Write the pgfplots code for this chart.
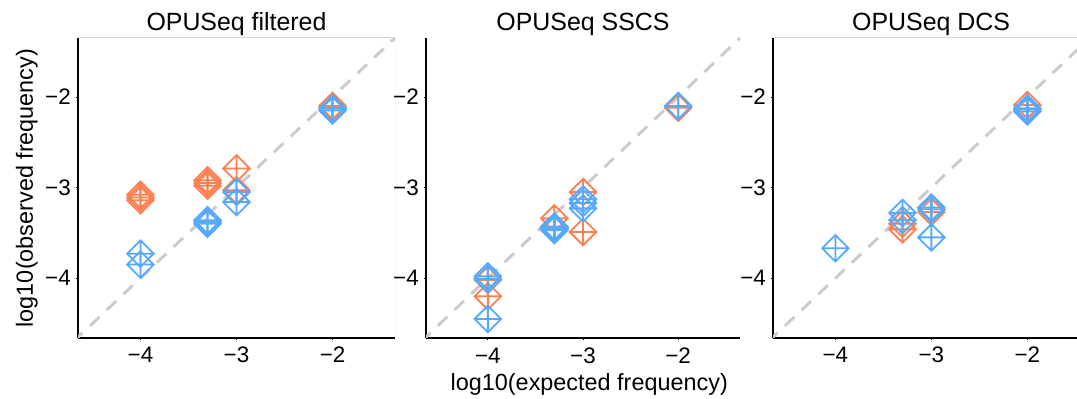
\documentclass[border=0pt]{standalone}
\usepackage{fontspec}
\setmainfont{Liberation Sans}
\usepackage{pgfplots}
\pgfplotsset{compat=1.18}
\definecolor{cor}{RGB}{255,127,80}
\definecolor{blu}{RGB}{85,170,255}
\definecolor{dgr}{RGB}{204,204,204}
\definecolor{bgr}{RGB}{215,215,215}
\pgfdeclareplotmark{dplus}{%
  \pgfpathmoveto{\pgfqpoint{0pt}{\pgfplotmarksize}}%
  \pgfpathlineto{\pgfqpoint{\pgfplotmarksize}{0pt}}%
  \pgfpathlineto{\pgfqpoint{0pt}{-\pgfplotmarksize}}%
  \pgfpathlineto{\pgfqpoint{-\pgfplotmarksize}{0pt}}%
  \pgfpathclose
  \pgfpathmoveto{\pgfqpoint{0pt}{\pgfplotmarksize}}%
  \pgfpathlineto{\pgfqpoint{0pt}{-\pgfplotmarksize}}%
  \pgfpathmoveto{\pgfqpoint{\pgfplotmarksize}{0pt}}%
  \pgfpathlineto{\pgfqpoint{-\pgfplotmarksize}{0pt}}%
  \pgfusepathqstroke}
\pgfplotsset{
  panel/.style={
    scale only axis,
    height=300bp,
    xmin=-4.65, xmax=-1.35, ymin=-4.66, ymax=-1.35,
    axis x line*=bottom, axis y line*=left,
    axis line style={black, line width=1.3bp, -},
    xtick={-4,-3,-2}, xticklabels={−4,−3,−2},
    ytick={-4,-3,-2}, yticklabels={−4,−3,−2},
    tick align=outside,
    major tick length=2bp,
    tick style={black, line width=0.8bp},
    tick label style={font=\fontsize{22.5}{26}\selectfont},
    xticklabel style={anchor=base, yshift=-23bp},
    yticklabel style={anchor=east, inner sep=0pt, xshift=-5bp},
    title style={font=\fontsize{25}{29}\selectfont, at={(0.5,1)}, anchor=base, yshift=2bp},
    label style={font=\fontsize{23.5}{28}\selectfont},
  },
  diag/.style={dgr, line width=3bp, dash pattern=on 13bp off 10bp, forget plot},
  orng/.style={only marks, mark=dplus, mark size=13.3bp, mark options={cor, line width=1.8bp}},
  blue/.style={only marks, mark=dplus, mark size=13.3bp, mark options={blu, line width=1.8bp}},
}
\begin{document}
\begin{tikzpicture}
% Panel 1
\begin{axis}[panel, at={(78bp,61bp)}, anchor=south west, width=317bp,
  title={OPUSeq filtered},
  ylabel={log10(observed frequency)},
  ylabel style={at={(axis description cs:-0.142,0.5)}, anchor=base}]
\addplot[diag] coordinates {(-4.7,-4.7) (-1.3,-1.3)};
\addplot[orng] coordinates {(-4,-3.08) (-4,-3.11) (-4,-3.14) (-3.301,-2.92) (-3.301,-2.95) (-3.301,-2.98) (-3,-2.79) (-3,-3.03) (-2,-2.10) (-2,-2.12)};
\addplot[blue] coordinates {(-4,-3.73) (-4,-3.85) (-3.301,-3.36) (-3.301,-3.38) (-3.301,-3.40) (-3,-3.05) (-3,-3.16) (-2,-2.13) (-2,-2.15)};
\draw[bgr, line width=1bp] (rel axis cs:0,1) -- (rel axis cs:1,1) -- (rel axis cs:1,0);
\end{axis}
% Panel 2
\begin{axis}[panel, at={(426bp,61bp)}, anchor=south west, width=314bp,
  title={OPUSeq SSCS},
  xlabel={log10(expected frequency)},
  xlabel style={at={(axis description cs:0.52,-0.175)}, anchor=base}]
\addplot[diag] coordinates {(-4.7,-4.7) (-1.3,-1.3)};
\addplot[orng] coordinates {(-4,-4.02) (-4,-4.20) (-3.301,-3.34) (-3.301,-3.44) (-3,-3.05) (-3,-3.49) (-2,-2.12)};
\addplot[blue] coordinates {(-4,-3.98) (-4,-4.01) (-4,-4.45) (-3.301,-3.43) (-3.301,-3.45) (-3.301,-3.47) (-3,-3.13) (-3,-3.17) (-3,-3.23) (-2,-2.10)};
\end{axis}
% Panel 3
\begin{axis}[panel, at={(773bp,61bp)}, anchor=south west, width=304bp, xmax=-1.483,
  title={OPUSeq DCS},
  title style={at={(0.52,1)}}]
\addplot[diag] coordinates {(-4.7,-4.7) (-1.3,-1.3)};
\addplot[orng] coordinates {(-3.301,-3.40) (-3.301,-3.46) (-3,-3.27) (-2,-2.09)};
\addplot[blue] coordinates {(-4,-3.67) (-3.301,-3.28) (-3.301,-3.36) (-3,-3.22) (-3,-3.24) (-3,-3.55) (-2,-2.125) (-2,-2.14) (-2,-2.16)};
\draw[bgr, line width=1bp] (rel axis cs:0,1) -- (rel axis cs:1,1);
\end{axis}
\pgfresetboundingbox
\path[use as bounding box] (0bp,0bp) rectangle (1077bp,399bp);
\end{tikzpicture}
\end{document}
